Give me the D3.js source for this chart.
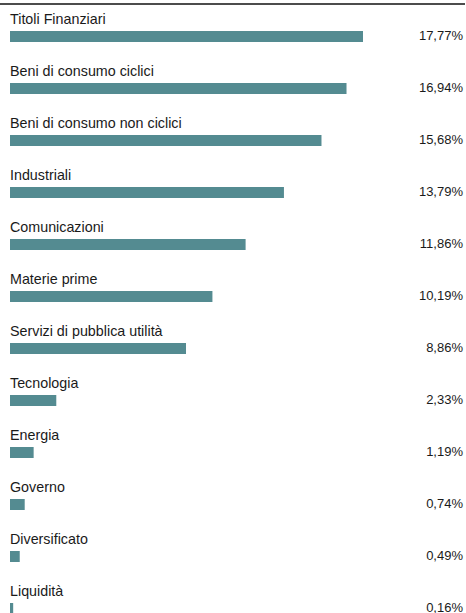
<!DOCTYPE html>
<html lang="it">
<head>
<meta charset="UTF-8">
<title>Settori</title>
<style>
  body { margin: 0; background: #fff; font-family: 'Liberation Sans', Arial, sans-serif; }
  .lbl { font-size: 14.3px; fill: #1a1a1a; }
  .val { font-size: 13px; fill: #1a1a1a; }
</style>
</head>
<body>
<div id="chart"></div>
<script src="https://d3js.org/d3.v7.min.js"></script>
<script>
// data
const categories = ["Titoli Finanziari", "Beni di consumo ciclici", "Beni di consumo non ciclici",
  "Industriali", "Comunicazioni", "Materie prime", "Servizi di pubblica utilità",
  "Tecnologia", "Energia", "Governo", "Diversificato", "Liquidità"];
const values = [17.77, 16.94, 15.68, 13.79, 11.86, 10.19, 8.86, 2.33, 1.19, 0.74, 0.49, 0.16];

const width = 466, height = 613;
const svg = d3.select("#chart").append("svg")
  .attr("width", width).attr("height", height);

// top rule
svg.append("line")
  .attr("x1", 0).attr("x2", 465).attr("y1", 4).attr("y2", 4)
  .attr("stroke", "#111").attr("stroke-width", 1.6);

const y = d3.scaleBand().domain(categories).range([10, 10 + 52 * categories.length]).paddingInner(0);
const x = d3.scaleLinear().domain([0, 17.77]).range([0, 353]);

const row = svg.append("g").selectAll("g")
  .data(categories.map((c, i) => ({ c, v: values[i] })))
  .enter().append("g")
  .attr("transform", d => `translate(0,${y(d.c)})`);

row.append("text").attr("class", "lbl")
  .attr("x", 10).attr("y", 13.5)
  .text(d => d.c);

row.append("rect")
  .attr("x", 10).attr("y", 21)
  .attr("height", 11)
  .attr("width", d => x(d.v))
  .attr("fill", "#548b91");

row.append("text").attr("class", "val")
  .attr("x", 463).attr("y", 29.5)
  .attr("text-anchor", "end")
  .text(d => d.v.toFixed(2).replace(".", ",") + "%");
</script>
</body>
</html>
